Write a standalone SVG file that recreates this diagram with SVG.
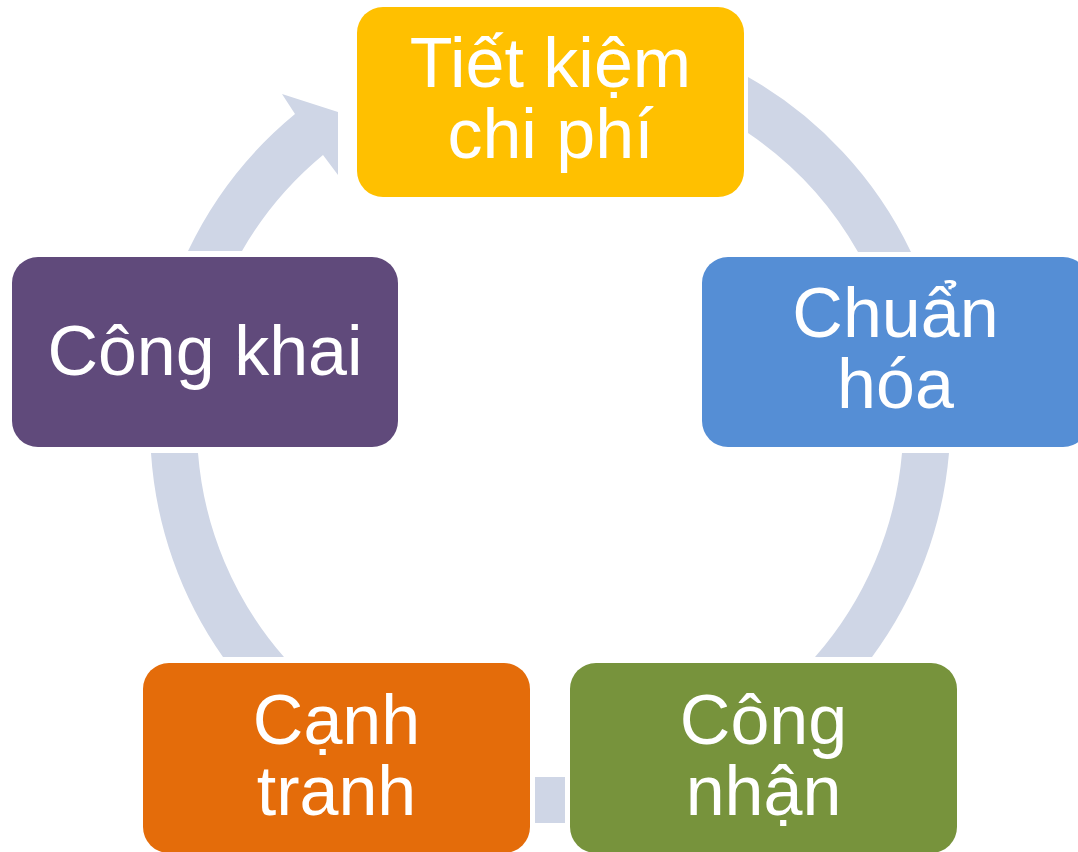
<svg xmlns="http://www.w3.org/2000/svg" width="1078" height="852" viewBox="0 0 1078 852">
<style>
.arc{fill:#CFD6E6;stroke:none}
.lbl{font-family:"Liberation Sans",Arial,sans-serif;font-size:70px;fill:#FFFFFF;text-anchor:middle}
</style>
<rect width="1078" height="852" fill="#FFFFFF"/>
<g id="connectors">
<path class="arc" d="M188,251 A400,400 0 0 1 295,114 L282,94 L338,112 L338,175 L323,155 A352,352 0 0 0 242,251 Z"/>
<path class="arc" d="M748,77 A400,400 0 0 1 911,252 L858,252 A352,352 0 0 0 748,133 Z"/>
<path class="arc" d="M902,453 L949,453 A400,400 0 0 1 872,657 L815,657 A355,355 0 0 0 902,453 Z"/>
<rect class="arc" x="535" y="777" width="30" height="46"/>
<path class="arc" d="M151,453 L198,453 A352,352 0 0 0 284,657 L223,657 A400,400 0 0 1 151,453 Z"/>
</g>
<g id="node-tiet-kiem">
<rect x="357" y="7" width="387" height="190" rx="26" fill="#FFC000"/>
<text class="lbl" x="550.5" y="87">Tiết kiệm</text>
<text class="lbl" x="550.5" y="158">chi phí</text>
</g>
<g id="node-chuan-hoa">
<rect x="702" y="257" width="387" height="190" rx="26" fill="#558ED5"/>
<text class="lbl" x="895.5" y="337">Chuẩn</text>
<text class="lbl" x="895.5" y="408">hóa</text>
</g>
<g id="node-cong-nhan">
<rect x="570" y="663" width="387" height="190" rx="26" fill="#77933C"/>
<text class="lbl" x="763.5" y="744">Công</text>
<text class="lbl" x="763.5" y="815">nhận</text>
</g>
<g id="node-canh-tranh">
<rect x="143" y="663" width="387" height="190" rx="26" fill="#E46C0A"/>
<text class="lbl" x="336.5" y="744">Cạnh</text>
<text class="lbl" x="336.5" y="815">tranh</text>
</g>
<g id="node-cong-khai">
<rect x="12" y="257" width="386" height="190" rx="26" fill="#604A7B"/>
<text class="lbl" x="205" y="375">Công khai</text>
</g>
</svg>
